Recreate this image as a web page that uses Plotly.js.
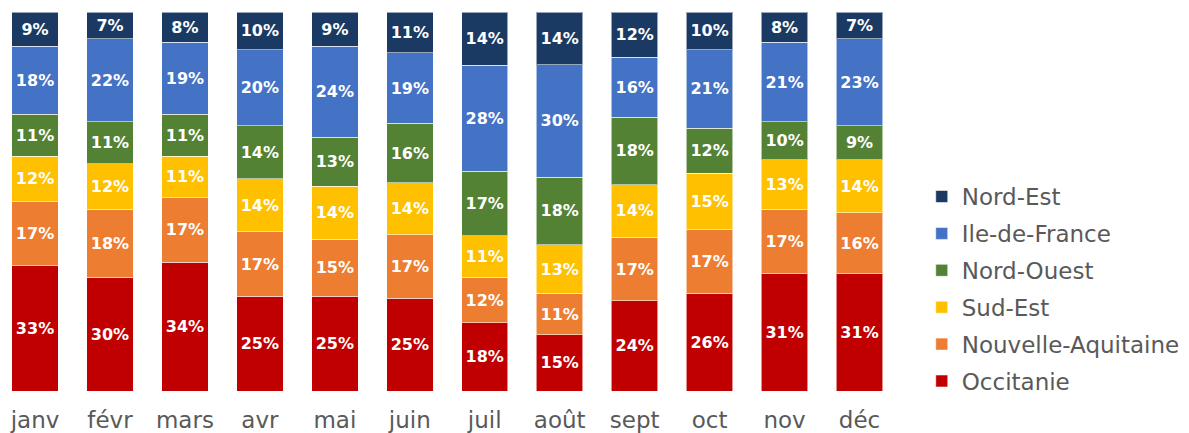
<!DOCTYPE html>
<html><head><meta charset="utf-8">
<script src="https://cdn.plot.ly/plotly-3.0.1.min.js"></script>
<style>html,body{margin:0;padding:0;background:#fff}</style>
</head><body>
<div id="chart" style="width:1189px;height:433px"></div>
<script>
const months = ["janv","févr","mars","avr","mai","juin","juil","août","sept","oct","nov","déc"];
const occitanie = [33,30,34,25,25,25,18,15,24,26,31,31];
const nouvelleAquitaine = [17,18,17,17,15,17,12,11,17,17,17,16];
const sudEst = [12,12,11,14,14,14,11,13,14,15,13,14];
const nordOuest = [11,11,11,14,13,16,17,18,18,12,10,9];
const ileDeFrance = [18,22,19,20,24,19,28,30,16,21,21,23];
const nordEst = [9,7,8,10,9,11,14,14,12,10,8,7];

const series = [
  {name:"Occitanie", y:occitanie, color:"#C00000"},
  {name:"Nouvelle-Aquitaine", y:nouvelleAquitaine, color:"#ED7D31"},
  {name:"Sud-Est", y:sudEst, color:"#FFC000"},
  {name:"Nord-Ouest", y:nordOuest, color:"#548235"},
  {name:"Ile-de-France", y:ileDeFrance, color:"#4472C4"},
  {name:"Nord-Est", y:nordEst, color:"#1A3A63"}
];

const data = series.map((s, i) => ({
  type:"bar", name:s.name, x:months, y:s.y,
  legendgroup:s.name, legendrank: series.length - i,
  marker:{color:s.color, line:{color:"rgba(255,255,255,0.55)", width:1}},
  text:s.y.map(v => v + "%"), textposition:"inside", insidetextanchor:"middle",
  textangle:0, constraintext:"none",
  textfont:{family:"DejaVu Sans, sans-serif", size:16, color:"#fff", weight:700},
  hoverinfo:"skip"
}));

const layout = {
  barmode:"stack", barnorm:"percent", bargap:0.38,
  margin:{l:0, r:257, t:12, b:42},
  paper_bgcolor:"#fff", plot_bgcolor:"#fff",
  font:{family:"DejaVu Sans, sans-serif", color:"#595959"},
  xaxis:{tickfont:{size:23, color:"#595959"}, showline:false, ticks:"", showgrid:false,
    fixedrange:true, range:[-0.467, 11.967], ticklabelstandoff:13},
  yaxis:{visible:false, range:[0,100], fixedrange:true},
  showlegend:true,
  legend:{traceorder:"grouped", x:0.989, xanchor:"left", y:0.269, yanchor:"middle",
    font:{size:23, color:"#595959"}, tracegroupgap:4, itemwidth:30},
  uniformtext:{mode:false}
};

Plotly.newPlot("chart", data, layout, {displayModeBar:false, staticPlot:true});
</script>
</body></html>
